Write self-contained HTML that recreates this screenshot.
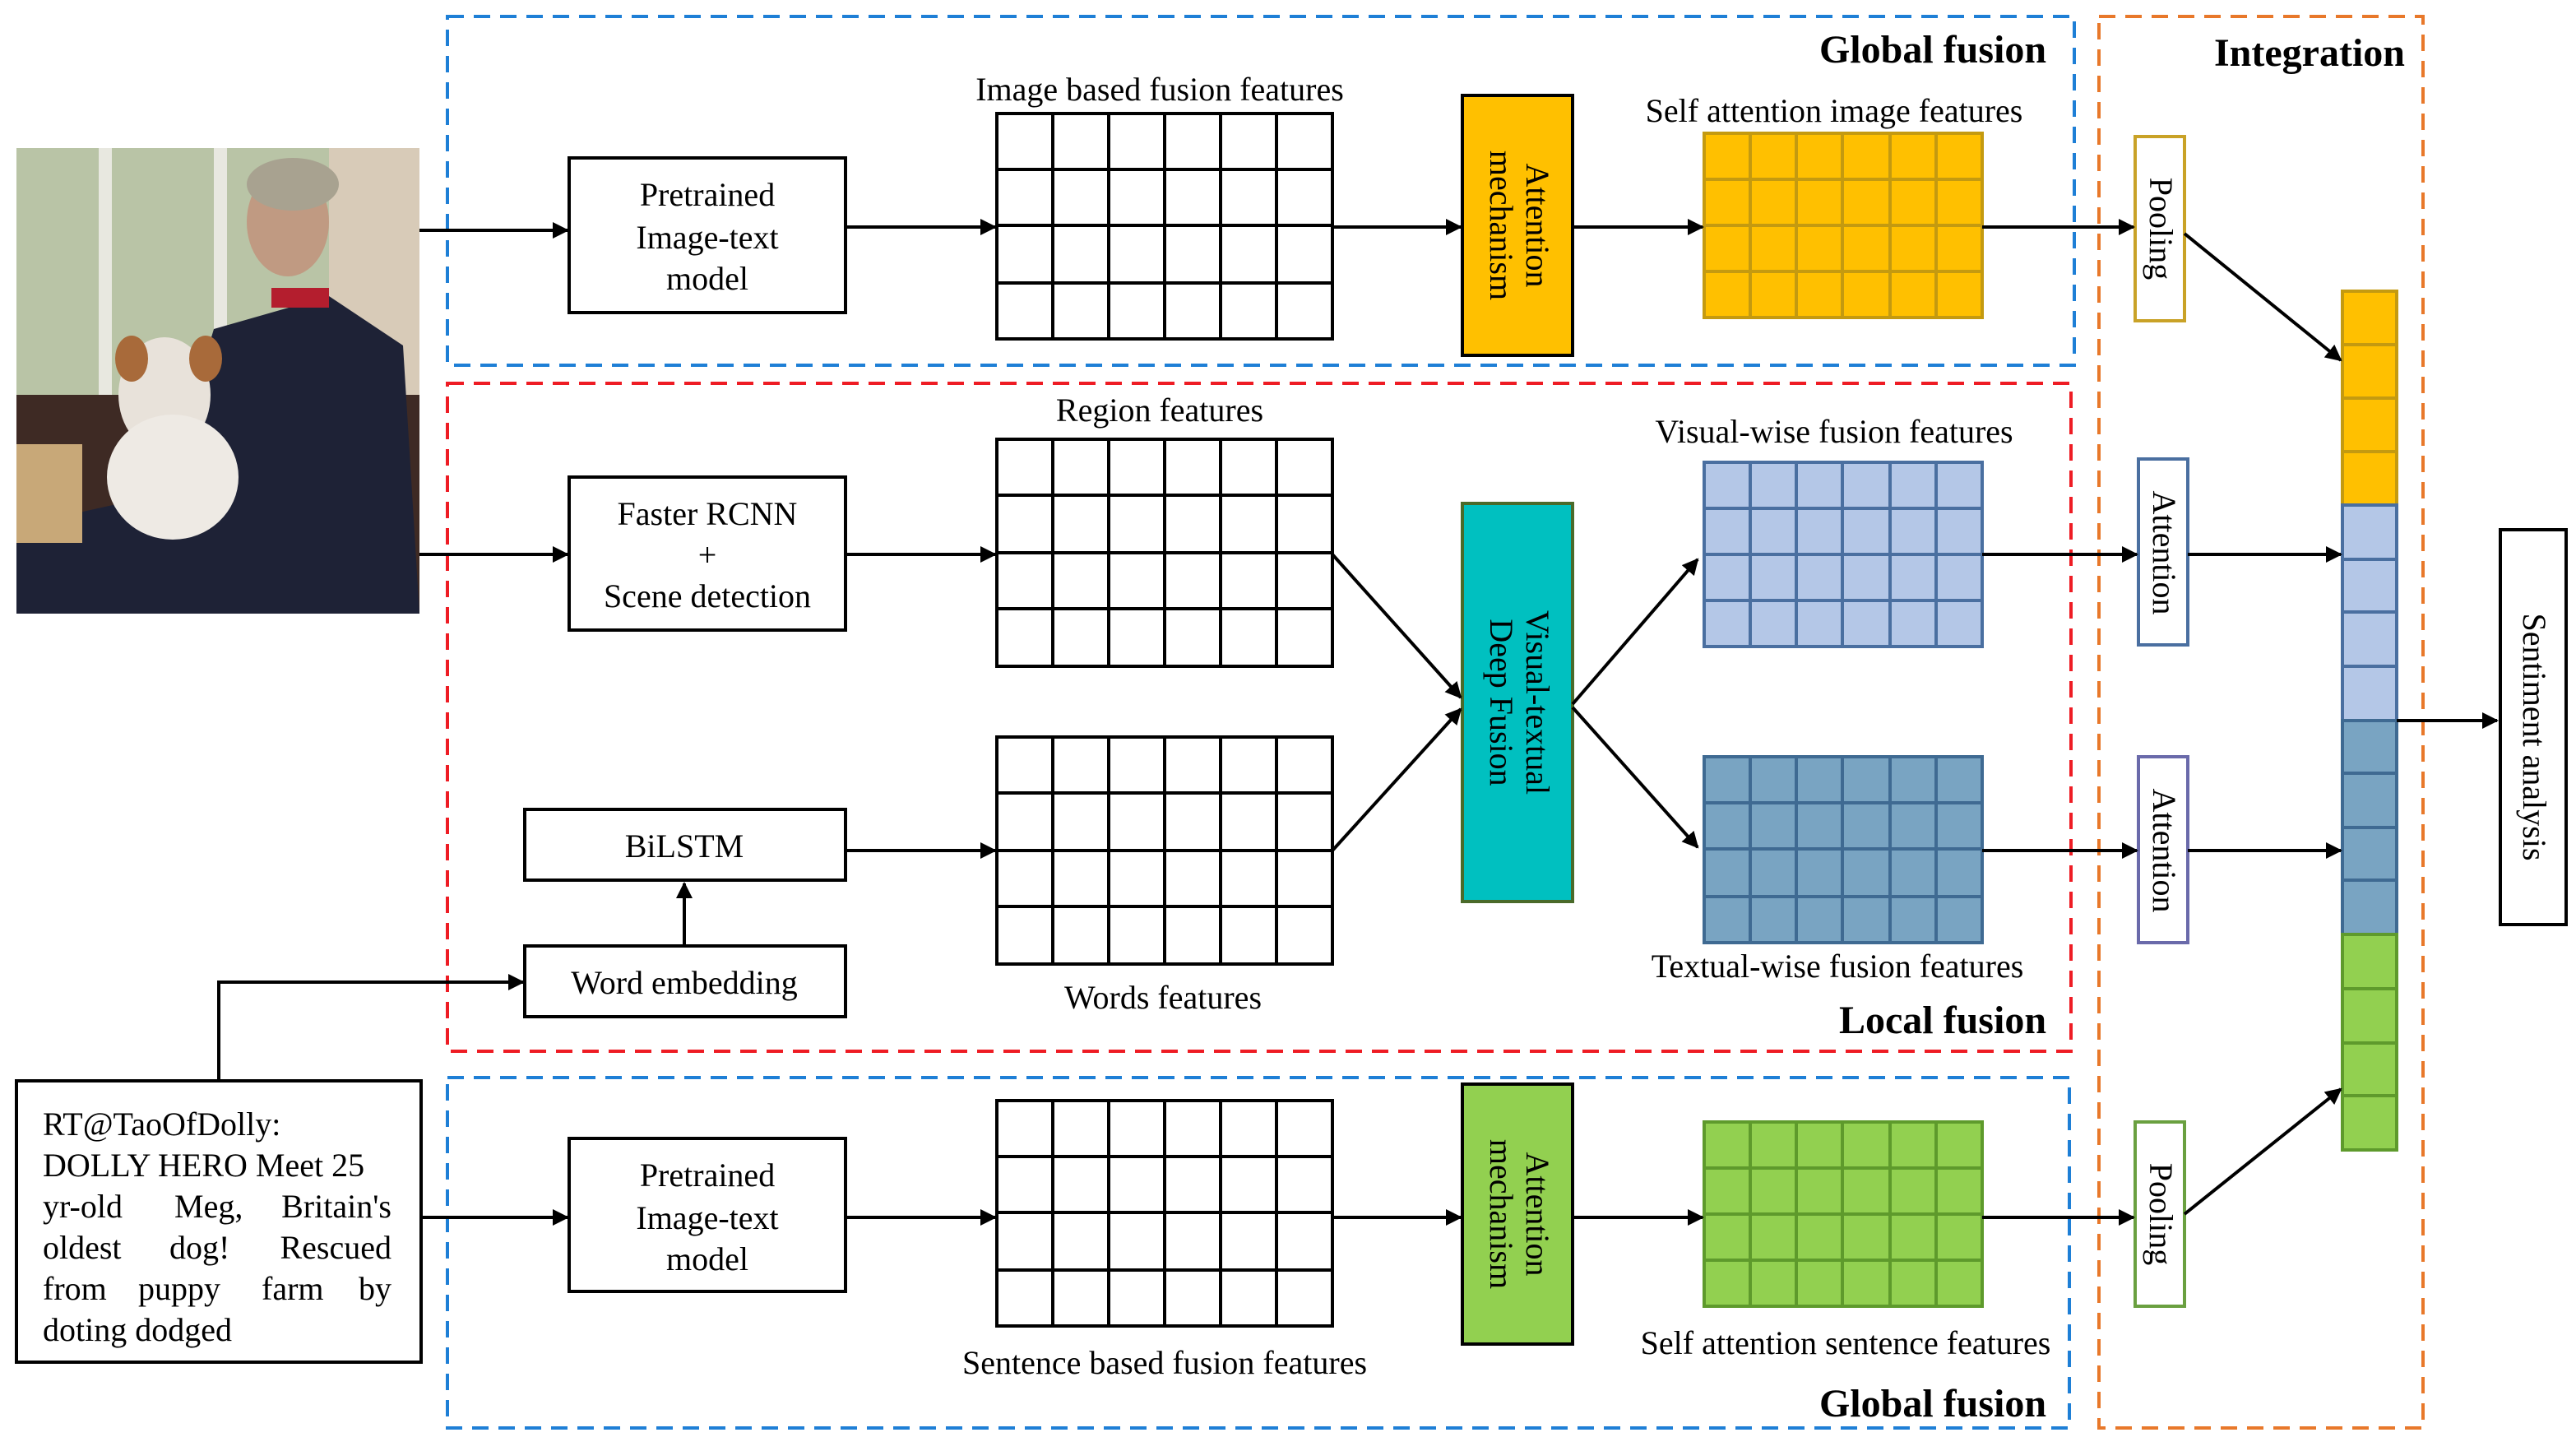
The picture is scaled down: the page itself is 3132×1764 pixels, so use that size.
<!DOCTYPE html>
<html><head><meta charset="utf-8"><style>html,body{margin:0;padding:0;background:#fff}svg{display:block}</style></head>
<body>
<svg xmlns="http://www.w3.org/2000/svg" width="3132" height="1764" viewBox="0 0 1566 882" font-family="'Liberation Serif', serif" font-size="20">
<defs>
<marker id="a" markerWidth="10" markerHeight="10" refX="9" refY="5" orient="auto" markerUnits="userSpaceOnUse"><path d="M0,0 L10,5 L0,10 z" fill="#000"/></marker>
</defs>
<rect width="1566" height="882" fill="#fff"/>
<g>
<rect x="10" y="90" width="245" height="283" fill="#8a8c7a"/>
<rect x="10" y="90" width="190" height="150" fill="#b9c4a6"/>
<rect x="60" y="90" width="8" height="150" fill="#e8e8e0"/>
<rect x="130" y="90" width="8" height="140" fill="#e8e8e0"/>
<rect x="200" y="90" width="55" height="240" fill="#d8cbb8"/>
<rect x="10" y="240" width="245" height="133" fill="#3e2a24"/>
<ellipse cx="175" cy="135" rx="25" ry="33" fill="#c09a82"/>
<ellipse cx="178" cy="112" rx="28" ry="16" fill="#a8a290"/>
<path d="M130 200 L200 180 L245 210 L255 373 L10 373 L10 320 L100 300 Z" fill="#1e2236"/>
<rect x="165" y="175" width="35" height="12" fill="#b41e2e"/>
<ellipse cx="100" cy="240" rx="28" ry="35" fill="#e8e2da"/>
<ellipse cx="105" cy="290" rx="40" ry="38" fill="#eeeae4"/>
<ellipse cx="80" cy="218" rx="10" ry="14" fill="#a86a3a"/>
<ellipse cx="125" cy="218" rx="10" ry="14" fill="#a86a3a"/>
<rect x="10" y="270" width="40" height="60" fill="#c8a878"/>
</g>
<g fill="none" stroke-width="2" stroke-dasharray="10,6">
<rect x="272" y="10" width="989" height="212" stroke="#1e7fd6"/>
<rect x="272" y="233" width="987" height="406" stroke="#ee1c24"/>
<rect x="272" y="655" width="986" height="213" stroke="#1e7fd6"/>
<rect x="1276" y="10" width="197" height="858" stroke="#e8782a"/>
</g>
<g font-weight="bold" font-size="24" text-anchor="middle">
<text x="1175" y="38">Global fusion</text>
<text x="1404" y="40">Integration</text>
<text x="1181" y="628">Local fusion</text>
<text x="1175" y="861">Global fusion</text>
</g>
<g fill="#fff" stroke="#000" stroke-width="2">
<rect x="346" y="96" width="168" height="94"/>
<rect x="346" y="290" width="168" height="93"/>
<rect x="319" y="492" width="195" height="43"/>
<rect x="319" y="575" width="195" height="43"/>
<rect x="346" y="692" width="168" height="93"/>
<rect x="10" y="657" width="246" height="171"/>
<rect x="1520" y="322" width="40" height="240"/>
</g>
<g text-anchor="middle">
<text x="430" y="125">Pretrained</text><text x="430" y="151">Image-text</text><text x="430" y="176">model</text>
<text x="430" y="319">Faster RCNN</text><text x="430" y="344">+</text><text x="430" y="369">Scene detection</text>
<text x="416" y="521">BiLSTM</text>
<text x="416" y="604">Word embedding</text>
<text x="430" y="721">Pretrained</text><text x="430" y="747">Image-text</text><text x="430" y="772">model</text>
<text x="705" y="61">Image  based fusion  features</text>
<text x="705" y="256">Region  features</text>
<text x="707" y="613">Words features</text>
<text x="708" y="835">Sentence based fusion features</text>
<text x="1115" y="74">Self attention  image  features</text>
<text x="1115" y="269">Visual-wise  fusion  features</text>
<text x="1117" y="594">Textual-wise  fusion features</text>
<text x="1122" y="823">Self attention  sentence features</text>
</g>
<g>
<text x="26" y="690">RT@TaoOfDolly:</text>
<text x="26" y="715">DOLLY HERO Meet 25</text>
<text y="740"><tspan x="26">yr-old</tspan><tspan x="106">Meg,</tspan><tspan x="238" text-anchor="end">Britain's</tspan></text>
<text y="765"><tspan x="26">oldest</tspan><tspan x="103">dog!</tspan><tspan x="238" text-anchor="end">Rescued</tspan></text>
<text y="790"><tspan x="26">from</tspan><tspan x="84">puppy</tspan><tspan x="159">farm</tspan><tspan x="238" text-anchor="end">by</tspan></text>
<text x="26" y="815">doting dodged</text>
</g>
<g fill="none" stroke="#000" stroke-width="2">
<rect x="606" y="69" width="204" height="137"/>
<path d="M640 69V206M674 69V206M708 69V206M742 69V206M776 69V206M606 103H810M606 137H810M606 172H810"/>
<rect x="606" y="267" width="204" height="138"/>
<path d="M640 267V405M674 267V405M708 267V405M742 267V405M776 267V405M606 301H810M606 336H810M606 370H810"/>
<rect x="606" y="448" width="204" height="138"/>
<path d="M640 448V586M674 448V586M708 448V586M742 448V586M776 448V586M606 482H810M606 517H810M606 551H810"/>
<rect x="606" y="669" width="204" height="137"/>
<path d="M640 669V806M674 669V806M708 669V806M742 669V806M776 669V806M606 703H810M606 737H810M606 772H810"/>
</g>
<g stroke-width="2">
<rect x="1036" y="81" width="169" height="112" fill="#FFC000" stroke="#C49A10"/>
<path d="M1064 81V193M1092 81V193M1120 81V193M1149 81V193M1177 81V193M1036 109H1205M1036 137H1205M1036 165H1205" stroke="#C49A10"/>
<rect x="1036" y="281" width="169" height="112" fill="#B4C7E7" stroke="#4A6FA0"/>
<path d="M1064 281V393M1092 281V393M1120 281V393M1149 281V393M1177 281V393M1036 309H1205M1036 337H1205M1036 365H1205" stroke="#4A6FA0"/>
<rect x="1036" y="460" width="169" height="113" fill="#79A4C2" stroke="#3F6A92"/>
<path d="M1064 460V573M1092 460V573M1120 460V573M1149 460V573M1177 460V573M1036 488H1205M1036 516H1205M1036 545H1205" stroke="#3F6A92"/>
<rect x="1036" y="682" width="169" height="112" fill="#92D050" stroke="#5E9A2C"/>
<path d="M1064 682V794M1092 682V794M1120 682V794M1149 682V794M1177 682V794M1036 710H1205M1036 738H1205M1036 766H1205" stroke="#5E9A2C"/>
</g>
<rect x="889" y="58" width="67" height="158" fill="#FFC000" stroke="#000" stroke-width="2"/>
<rect x="889" y="306" width="67" height="242" fill="#00C0C0" stroke="#4a6a2a" stroke-width="2"/>
<rect x="889" y="659" width="67" height="158" fill="#92D050" stroke="#000" stroke-width="2"/>
<g font-size="20" text-anchor="middle">
<text transform="translate(922,137) rotate(90)"><tspan x="0" y="-6">Attention</tspan><tspan x="0" y="16">mechanism</tspan></text>
<text transform="translate(922,427) rotate(90)"><tspan x="0" y="-6">Visual-textual</tspan><tspan x="0" y="16">Deep Fusion</tspan></text>
<text transform="translate(922,738) rotate(90)"><tspan x="0" y="-6">Attention</tspan><tspan x="0" y="16">mechanism</tspan></text>
</g>
<rect x="1298" y="83" width="30" height="112" fill="#fff" stroke="#C9A227" stroke-width="2"/>
<rect x="1300" y="279" width="30" height="113" fill="#fff" stroke="#4A6FA0" stroke-width="2"/>
<rect x="1300" y="460" width="30" height="113" fill="#fff" stroke="#6A6AAA" stroke-width="2"/>
<rect x="1298" y="682" width="30" height="112" fill="#fff" stroke="#6AA040" stroke-width="2"/>
<g text-anchor="middle" font-size="20">
<text transform="translate(1313,139) rotate(90)" y="6">Pooling</text>
<text transform="translate(1315,336) rotate(90)" y="6">Attention</text>
<text transform="translate(1315,517) rotate(90)" y="6">Attention</text>
<text transform="translate(1313,738) rotate(90)" y="6">Pooling</text>
<text transform="translate(1540,448) rotate(90)" y="6">Sentiment  analysis</text>
</g>
<g stroke-width="2">
<rect x="1424" y="177" width="33" height="130" fill="#FFC000" stroke="#C49A10"/>
<path d="M1424 209.5H1457M1424 242H1457M1424 274.5H1457" stroke="#C49A10"/>
<rect x="1424" y="307" width="33" height="131" fill="#B4C7E7" stroke="#4A6FA0"/>
<path d="M1424 340H1457M1424 372H1457M1424 405H1457" stroke="#4A6FA0"/>
<rect x="1424" y="438" width="33" height="130" fill="#79A4C2" stroke="#3F6A92"/>
<path d="M1424 470H1457M1424 503H1457M1424 535H1457" stroke="#3F6A92"/>
<rect x="1424" y="568" width="33" height="131" fill="#92D050" stroke="#5E9A2C"/>
<path d="M1424 601H1457M1424 634H1457M1424 666H1457" stroke="#5E9A2C"/>
</g>
<g stroke="#000" stroke-width="2" fill="none" marker-end="url(#a)">
<path d="M255 140H345"/>
<path d="M514 138H605"/>
<path d="M810 138H888"/>
<path d="M956 138H1035"/>
<path d="M1205 138H1297"/>
<path d="M1328 142L1423 219"/>
<path d="M255 337H345"/>
<path d="M514 337H605"/>
<path d="M514 517H605"/>
<path d="M416 575V537"/>
<path d="M133 657V597H318"/>
<path d="M810 337L888 424"/>
<path d="M810 517L888 431"/>
<path d="M956 428L1032 340"/>
<path d="M956 430L1032 515"/>
<path d="M1205 337H1299"/>
<path d="M1330 337H1423"/>
<path d="M1205 517H1299"/>
<path d="M1330 517H1423"/>
<path d="M256 740H345"/>
<path d="M514 740H605"/>
<path d="M810 740H888"/>
<path d="M956 740H1035"/>
<path d="M1205 740H1297"/>
<path d="M1328 738L1423 662"/>
<path d="M1457 438H1518"/>
</g>
</svg>
</body></html>
